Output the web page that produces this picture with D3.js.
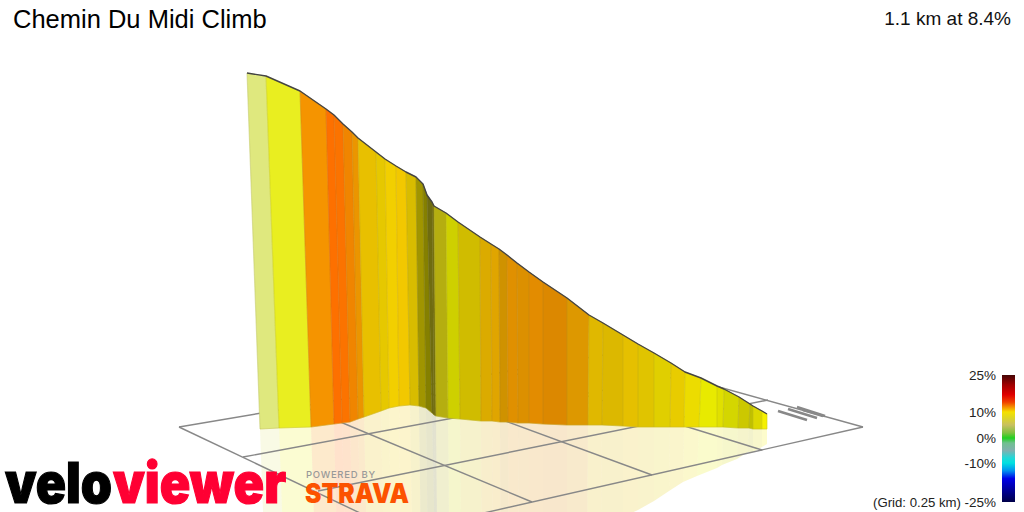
<!DOCTYPE html>
<html><head><meta charset="utf-8">
<script src="https://cdn.jsdelivr.net/npm/d3@7"></script>
<style>html,body{margin:0;padding:0;background:#fff}svg{display:block}</style>
</head><body><svg id="c" width="1024" height="512" font-family='"Liberation Sans",Arial,sans-serif'></svg>
<script>
const titleText = "Chemin Du Midi Climb";
const summaryText = "1.1 km at 8.4%";
const gridNote = "(Grid: 0.25 km)";
// projected profile: distance along view, elevation of the ridge
const topDist = [0,19,53,79,87,96,105,111,129,138,149,159,169,176,180,185,187,199,211,233,244,252,260,270,282,296,320,342,356,376,391,407,424,438,454,470,477,492,503,506,515,520];
const topElev = [357,354,339,321,315,306,298,292,278,271,264,258,253,246,235,228,224,217,208,193,186,181,175,167,158,148,132,115,107,95,86,77,67,58,52,44,41,33,26,24,19,16];
// projected foot of the wall on the ground plane
const baseDist = [13,32,64,87,95,103,111,117,134,142,152,163,172,179,185,187,189,201,213,234,245,253,261,271,282,296,320,341,355,376,391,407,423,437,452,470,476,491,502,506,515,520];
const baseElev = [1,2,3,6,7,8,11,13,19,22,24,25,24,22,17,15,14,12,11,9,9,8,8,7,7,6,5,5,5,4,3,3,3,3,3,3,3,2,2,1,1,1];
const segColors = ["#dfe87e","#e9ee20","#f59400","#fd7000","#fb7300","#f08500","#eb9500","#e8c000","#e6c800","#f2cf00","#f2c800","#d8bc00","#a09500","#858000","#6f6c10","#757010","#b5ae10","#ced000","#d0bc00","#dbab00","#e0a500","#cf9200","#e09000","#dc9000","#e38c00","#dc8800","#dd9800","#e0b800","#dcb800","#e5c000","#e0c400","#e0cf00","#e8cc00","#ecdc00","#e8ea00","#e0e000","#d4d600","#ccc800","#c0c000","#dcd800","#f5f000"];
// ground grid lines in the same projected units: [d1,e1,d2,e2]
const gridLines = [[-68,3,357,75],[-4,-27,433,54],[71,-61,521,30],[153,-102,616,3],[-68,3,153,-102],[55,24,285,-72],[166,43,405,-45],[260,59,515,-20],[357,75,616,3]];
const routeShadow = [[531,19,560,10],[541,21,570,12],[550,23,578,14],[556,20,576,14]];
const legendTicks = [25,10,0,-10,-25];
const legendGrades = [25,21,17,14,12,10,8,5,2,0,-2,-5,-8,-10,-13,-16,-20,-25];
const legendColors = ["#450505","#a00000","#e00000","#f04000","#f59000","#f5e000","#e0d820","#c8c060","#80c040","#20d020","#70c090","#80b0b0","#20d8d8","#00e0e0","#0090f0","#0000e8","#0000a0","#000048"];

const svg = d3.select("#c");
const x = d3.scaleLinear().domain([0,777]).range([247,1024]);
const y = d3.scaleLinear().domain([0,430]).range([430,0]);
const poly = d3.line().x(d=>x(d[0])).y(d=>y(d[1]));
const idx = d3.range(segColors.length);

// reflection on the plane
svg.append("g").selectAll("path").data(idx).join("path")
  .attr("d", i => poly([[baseDist[i],baseElev[i]],[baseDist[i+1],baseElev[i+1]],
     [2*baseDist[i+1]-topDist[i+1],2*baseElev[i+1]-topElev[i+1]],
     [2*baseDist[i]-topDist[i],2*baseElev[i]-topElev[i]]])+"Z")
  .attr("fill", i=>segColors[i]).attr("fill-opacity",0.2);

// grid
svg.append("g").selectAll("line").data(gridLines).join("line")
  .attr("x1",d=>x(d[0])).attr("y1",d=>y(d[1])).attr("x2",d=>x(d[2])).attr("y2",d=>y(d[3]))
  .attr("stroke","#888").attr("stroke-width",1.4);
svg.append("g").selectAll("line").data(routeShadow).join("line")
  .attr("x1",d=>x(d[0])).attr("y1",d=>y(d[1])).attr("x2",d=>x(d[2])).attr("y2",d=>y(d[3]))
  .attr("stroke","#888").attr("stroke-width",2.4);

// wall
svg.append("g").selectAll("path").data(idx).join("path")
  .attr("d", i => poly([[topDist[i],topElev[i]],[topDist[i+1],topElev[i+1]],[baseDist[i+1],baseElev[i+1]],[baseDist[i],baseElev[i]]])+"Z")
  .attr("fill", i=>segColors[i]).attr("stroke", i=>segColors[i]).attr("stroke-width",0.5);
svg.append("g").selectAll("line").data(d3.range(topDist.length)).join("line")
  .attr("x1",i=>x(topDist[i])).attr("y1",i=>y(topElev[i])).attr("x2",i=>x(baseDist[i])).attr("y2",i=>y(baseElev[i]))
  .attr("stroke","#807840").attr("stroke-opacity",0.14).attr("stroke-width",1.2);
svg.append("path").datum(d3.range(topDist.length).map(i=>[baseDist[i],baseElev[i]]))
  .attr("d",poly).attr("fill","none").attr("stroke","#b8b040").attr("stroke-opacity",0.35).attr("stroke-width",1);
svg.append("path").datum(topDist.map((d,i)=>[d,topElev[i]]))
  .attr("d",poly).attr("fill","none").attr("stroke","#444").attr("stroke-width",1.4).attr("stroke-linejoin","round");

// titles
svg.append("text").attr("x",13).attr("y",28).attr("font-size",25.5).attr("fill","#000").text(titleText);
svg.append("text").attr("x",1011).attr("y",25).attr("text-anchor","end").attr("font-size",19).attr("fill","#111").text(summaryText);

// legend
const legendY = d3.scaleLinear().domain([25,10,0,-10,-25]).range([375,412,438,463,502]);
const grad = svg.append("defs").append("linearGradient").attr("id","g").attr("x1",0).attr("x2",0).attr("y1",0).attr("y2",1);
grad.selectAll("stop").data(legendGrades).join("stop")
  .attr("offset",d=>(legendY(d)-375)/127).attr("stop-color",(d,i)=>legendColors[i]);
svg.append("rect").attr("x",1002).attr("y",legendY(25)).attr("width",13).attr("height",legendY(-25)-legendY(25)).attr("fill","url(#g)");
const ax = svg.append("g").attr("transform","translate(999,0)")
  .call(d3.axisLeft(legendY).tickValues(legendTicks).tickSize(0).tickFormat(d=>d+"%"));
ax.select(".domain").remove();
ax.selectAll("text").attr("font-size",13.5).attr("font-family",'"Liberation Sans",Arial,sans-serif').attr("fill","#222");
svg.append("text").attr("x",961).attr("y",507).attr("text-anchor","end").attr("font-size",13.2).attr("fill","#222").text(gridNote);

// logos
const logoFont = 'Inter,"Open Sans",sans-serif';
svg.append("text").attr("x",5).attr("y",503).style("font-family",logoFont).style("font-weight",900).attr("font-size",56)
  .attr("textLength",107).attr("lengthAdjust","spacingAndGlyphs").attr("fill","#000")
  .attr("stroke","#000").attr("stroke-width",1.2).text("velo");
svg.append("text").attr("x",113).attr("y",503).style("font-family",logoFont).style("font-weight",900).attr("font-size",56)
  .attr("textLength",173).attr("lengthAdjust","spacingAndGlyphs").attr("fill","#ff0033")
  .attr("stroke","#ff0033").attr("stroke-width",1.2).text("viewer");
svg.append("text").attr("x",306).attr("y",478).style("font-family",logoFont).style("font-weight",500).attr("font-size",9.5)
  .attr("textLength",69).attr("fill","#999").text("POWERED BY");
svg.append("text").attr("x",305).attr("y",503).style("font-family",logoFont).style("font-weight",900).attr("font-size",27)
  .attr("textLength",104).attr("lengthAdjust","spacingAndGlyphs").attr("fill","#fc5200").text("STRAVA");
</script></body></html>
